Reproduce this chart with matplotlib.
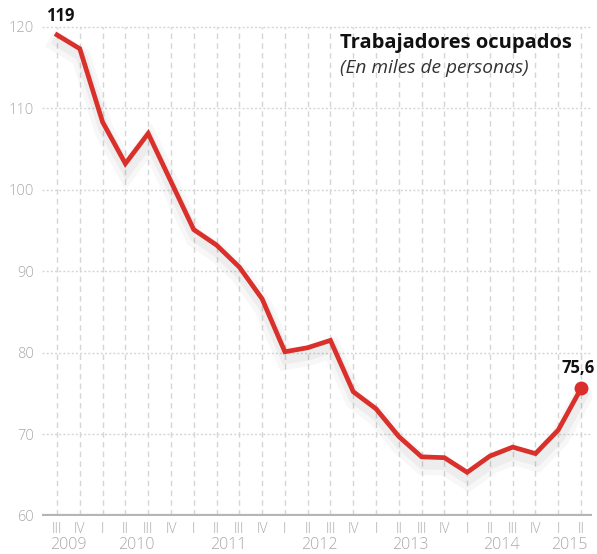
import matplotlib
matplotlib.use("Agg")
import matplotlib.pyplot as plt
import matplotlib.patheffects as pe
import numpy as np

# ---- data ----
quarters = ["III", "IV",
            "I", "II", "III", "IV",
            "I", "II", "III", "IV",
            "I", "II", "III", "IV",
            "I", "II", "III", "IV",
            "I", "II", "III", "IV",
            "I", "II"]
point_years = [2009, 2009,
               2010, 2010, 2010, 2010,
               2011, 2011, 2011, 2011,
               2012, 2012, 2012, 2012,
               2013, 2013, 2013, 2013,
               2014, 2014, 2014, 2014,
               2015, 2015]
values = [119.0, 117.3, 108.3, 103.2, 106.9, 101.0,
          95.1, 93.2, 90.5, 86.6, 80.1, 80.6,
          81.5, 75.2, 73.1, 69.7, 67.2, 67.1,
          65.3, 67.3, 68.4, 67.6, 70.5, 75.6]
y_ticks = [60, 70, 80, 90, 100, 110, 120]
title = "Trabajadores ocupados"
subtitle = "(En miles de personas)"
first_label = "119"
last_label = "75,6"

plt.rcParams['font.family'] = ['Open Sans', 'DejaVu Sans']

fig = plt.figure(figsize=(5.97, 5.54), dpi=100)
fig.patch.set_facecolor("white")
ax = fig.add_axes([42/597, 1 - 515.5/554, 550/597, (515.5 - 17.8)/554])

x = np.arange(len(values))
ax.set_xlim(-0.66, len(values) - 1 + 0.48)
ax.set_ylim(60, 121.1)

grid_col = "#d6d6d6"
for yv in y_ticks[1:]:
    ax.axhline(yv, color=grid_col, lw=1.0, ls=(0, (1.5, 1.5)), zorder=1)
ax.vlines(x, 60, 120, colors=grid_col, lw=1.0, linestyles=(0, (4, 3)), zorder=1)
ax.axhline(60, color="#b5b5b5", lw=1.6, zorder=2)

red = "#d9302b"
ax.plot(x, values, color=red, lw=3.4, solid_joinstyle="miter", zorder=4,
        path_effects=[pe.SimpleLineShadow(offset=(1, -6), shadow_color="#000000", alpha=0.03, linewidth=14),
                      pe.SimpleLineShadow(offset=(1, -5), shadow_color="#000000", alpha=0.04, linewidth=8),
                      pe.Normal()])
ax.plot(x[-1], values[-1], "o", color=red, ms=9, zorder=5)

for s in ax.spines.values():
    s.set_visible(False)

light = "#a9a9a9"
ax.set_yticks(y_ticks)
ax.set_yticklabels([str(v) for v in y_ticks], fontweight="light")
ax.tick_params(axis="y", length=0, pad=6, labelsize=10.5, labelcolor=light)
ax.set_xticks(x)
ax.set_xticklabels(quarters, fontweight="light")
ax.tick_params(axis="x", length=0, pad=5, labelsize=10, labelcolor=light)

for yr in sorted(set(point_years)):
    idx = [i for i, py in enumerate(point_years) if py == yr]
    ax.text(np.mean(idx), -0.0595, str(yr), transform=ax.get_xaxis_transform(),
            ha="center", va="center", fontsize=11.5, fontweight="light", color=light)

ax.annotate(first_label, (x[0], values[0]), xytext=(2, 7), textcoords="offset points",
            ha="center", va="bottom", fontsize=12, fontweight="bold", color="#111111",
            annotation_clip=False)
ax.annotate(last_label, (x[-1], values[-1]), xytext=(-2, 8), textcoords="offset points",
            ha="center", va="bottom", fontsize=12, fontweight="bold", color="#111111",
            annotation_clip=False)

fig.text(340/597, 1 - 43/554, title, ha="left", va="center", fontsize=14.5,
         fontweight="bold", color="#111111")
fig.text(340/597, 1 - 68/554, subtitle, ha="left", va="center", fontsize=13.8,
         style="italic", color="#333333")

fig.savefig("out.png", dpi=100, facecolor="white")
